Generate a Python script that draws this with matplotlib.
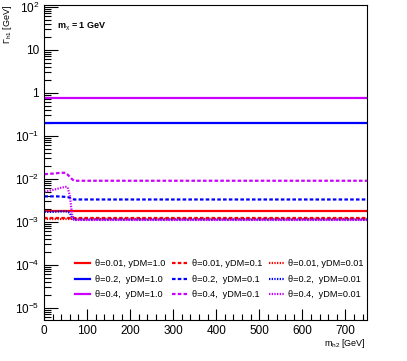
import numpy as np
import matplotlib
matplotlib.use('Agg')
import matplotlib.pyplot as plt
from matplotlib.ticker import FixedLocator, FuncFormatter, NullFormatter

plt.rcParams['font.family'] = ['Liberation Sans', 'DejaVu Sans']
plt.rcParams['mathtext.fontset'] = 'custom'
plt.rcParams['mathtext.rm'] = 'Liberation Sans'
plt.rcParams['mathtext.it'] = 'Liberation Sans'

# m_h2 grid [GeV]
mh2 = [1, 10, 20, 30, 40, 50, 55, 60, 65, 70, 100, 200, 300, 400, 500, 600, 700, 750]

# Gamma_h1 [GeV] for each (theta, yDM)
g_001_10 = [1.8e-3] * 18
g_02_10 = [0.20] * 18
g_04_10 = [0.77] * 18
g_001_01 = [1.24e-3] * 18
g_02_01 = [3.9e-3, 3.9e-3, 3.9e-3, 3.9e-3, 3.85e-3, 3.8e-3, 3.75e-3, 3.6e-3, 3.4e-3, 3.3e-3] + [3.3e-3] * 8
g_04_01 = [1.28e-2, 1.3e-2, 1.32e-2, 1.35e-2, 1.38e-2, 1.38e-2, 1.25e-2, 1.1e-2, 0.98e-2, 0.9e-2] + [0.9e-2] * 8
g_001_001 = [1.15e-3] * 18
g_02_001 = [1.7e-3, 1.7e-3, 1.7e-3, 1.72e-3, 1.74e-3, 1.75e-3, 1.72e-3, 1.6e-3, 1.25e-3, 1.12e-3] + [1.12e-3] * 8
g_04_001 = [5.0e-3, 5.2e-3, 5.5e-3, 5.8e-3, 6.2e-3, 6.5e-3, 6.3e-3, 4.0e-3, 1.5e-3, 1.1e-3] + [1.1e-3] * 8

thetas = ['0.01', '0.2', '0.4']
colors = ['#ff0000', '#0000ff', '#cc00ff']
ydecades = [1e-5, 1e-4, 1e-3, 1e-2, 1e-1, 1, 10, 100]

fig = plt.figure(figsize=(4.07, 3.61), dpi=100)
ax = fig.add_axes([44 / 407, 41 / 361, 323 / 407, 315 / 361])

series = [
    (g_001_10, 0, '1.0', '-'), (g_02_10, 1, '1.0', '-'), (g_04_10, 2, '1.0', '-'),
    (g_001_01, 0, '0.1', (0, (1.6, 1.0))), (g_02_01, 1, '0.1', (0, (1.6, 1.0))),
    (g_04_01, 2, '0.1', (0, (1.6, 1.0))),
    (g_001_001, 0, '0.01', (0, (0.6, 0.6))), (g_02_001, 1, '0.01', (0, (0.6, 0.6))),
    (g_04_001, 2, '0.01', (0, (0.6, 0.6))),
]
for vals, ci, ydm, ls in series:
    sep = ', ' if thetas[ci] == '0.01' else ',  '
    ax.plot(mh2, vals, color=colors[ci], ls=ls, lw=1.6,
            label='\u03b8=%s%syDM=%s' % (thetas[ci], sep, ydm))

ax.set_yscale('log')
ax.set_xlim(0, 750)
ax.set_ylim(5.2e-6, 110)

ax.xaxis.set_major_locator(FixedLocator(np.arange(0, 701, 100)))
ax.xaxis.set_minor_locator(FixedLocator(np.arange(0, 751, 20)))
ax.yaxis.set_major_locator(FixedLocator(ydecades))
ax.yaxis.set_minor_locator(FixedLocator(
    [d * k for d in [1e-6] + ydecades[:-1] for k in range(2, 10)
     if 5.2e-6 < d * k < 110]))


def yfmt(v, pos):
    e = int(round(np.log10(v)))
    if e == 0:
        return '1'
    if e == 1:
        return '10'
    return r'$10^{%d}$' % e


ax.yaxis.set_major_formatter(FuncFormatter(yfmt))
ax.yaxis.set_minor_formatter(NullFormatter())
ax.tick_params(which='both', direction='in', labelsize=8.5, top=False, right=False)
ax.tick_params(which='major', length=8, width=0.8)
ax.tick_params(which='minor', length=4, width=0.8)
ax.tick_params(axis='y', which='major', length=10)
ax.tick_params(axis='y', which='minor', length=5)
for s in ax.spines.values():
    s.set_linewidth(0.8)

ax.text(0.04, 0.93, r'm$_\chi$ = 1 GeV', transform=ax.transAxes,
        fontsize=6.5, fontweight='bold', va='center')

fig.text(8 / 407, 1 - 5 / 361, r'$\Gamma_{\rm h1}$ [GeV]', rotation=90,
         ha='center', va='top', fontsize=6.5)
fig.text(366 / 407, 1 - 343 / 361, r'm$_{\rm h2}$ [GeV]', ha='right',
         va='center', fontsize=6.5)

ax.legend(ncol=3, loc='lower left', bbox_to_anchor=(0.07, 0.04), frameon=False,
          fontsize=6.6, handlelength=1.7, handletextpad=0.45, columnspacing=0.75,
          labelspacing=0.7)

fig.savefig('out.png', dpi=100)
